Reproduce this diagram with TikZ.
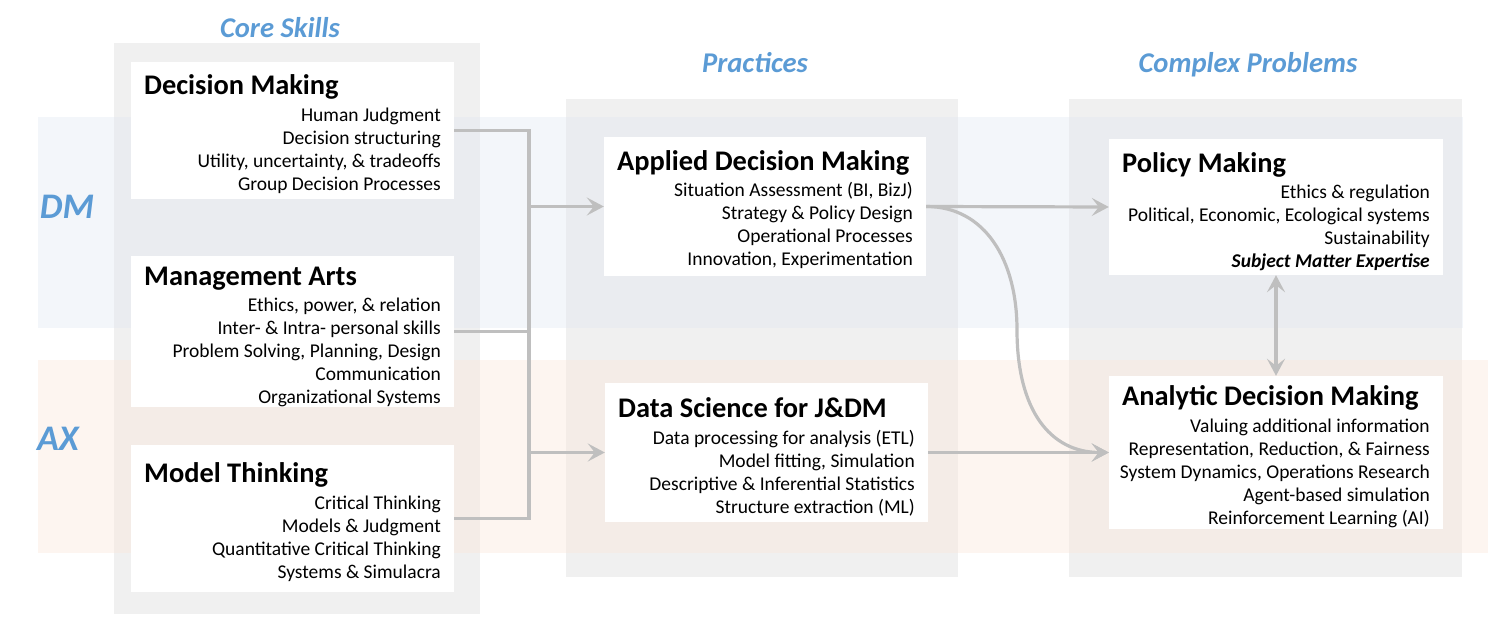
\documentclass[tikz,border=0pt]{standalone}
\usepackage{fontspec}
\setmainfont{Carlito}
\usepackage{xcolor}
\usepackage{tikz}
\usetikzlibrary{arrows.meta, positioning}
\definecolor{hdblue}{HTML}{5B9BD5}
\definecolor{colgray}{HTML}{F0F0F0}
\definecolor{dmtint}{RGB}{225,232,242}
\definecolor{axtint}{RGB}{250,230,218}
\definecolor{lnkgray}{HTML}{BFBFBF}

\begin{document}
\begin{tikzpicture}[x=1pt, y=-1pt,
            colbg/.style={fill=colgray},
            band/.style={fill opacity=0.4},
            card/.style={fill=white, inner sep=0pt, minimum width=323pt},
            ttl/.style={font=\fontsize{28.4}{32}\selectfont\bfseries, inner sep=0pt, anchor=base west},
            items/.style={font=\fontsize{19.5}{23}\selectfont, align=right, inner sep=0pt, anchor=base east},
            colhead/.style={font=\fontsize{28.6}{32}\selectfont\bfseries\itshape, text=hdblue, inner sep=0pt, anchor=base},
            rowhead/.style={font=\fontsize{36}{40}\selectfont\bfseries\itshape, text=hdblue, inner sep=0pt, anchor=base},
            conn/.style={draw=lnkgray, line width=3.2pt},
            arr/.style={conn, -{Stealth[length=17pt, width=18pt, inset=7pt]}}]
            \useasboundingbox (0,0) rectangle (1502,628);

            % 列背景
            \fill[colbg] (114,43) rectangle (480,614);
            \fill[colbg] (566,99) rectangle (958,577);
            \fill[colbg] (1069,99) rectangle (1462,577);

            % 行背景
            \fill[dmtint, band] (38,117) rectangle (1463,328);
            \fill[axtint, band] (38,360) rectangle (1488,553);

            % 标题
            \node[colhead] (hcore) at (280,38) {Core Skills};
            \node[colhead] (hprac) at (755,73) {Practices};
            \node[colhead] (hcplx) at (1248,73) {Complex Problems};
            \node[rowhead] (hdm) at (67,219) {DM};
            \node[rowhead] (hax) at (58,450) {AX};

            % Core Skills
            \node[card, minimum height=137pt] (dm) at (292.5,130.5) {};
            \node[ttl] (dmT) at (144,95) {Decision Making};
            \node[items] (dmI) at (441,191) {Human Judgment\\Decision structuring\\Utility, uncertainty, \& tradeoffs\\Group Decision Processes};

            \node[card, minimum height=151pt] (ma) at (292.5,331.5) {};
            \node[ttl] (maT) at (144,286) {Management Arts};
            \node[items] (maI) at (441,403) {Ethics, power, \& relation\\Inter- \& Intra- personal skills\\Problem Solving, Planning, Design\\Communication\\Organizational Systems};

            \node[card, minimum height=147pt] (mt) at (292.5,518.5) {};
            \node[ttl] (mtT) at (144,482) {Model Thinking};
            \node[items] (mtI) at (441,578) {Critical Thinking\\Models \& Judgment\\Quantitative Critical Thinking\\Systems \& Simulacra};

            % Practices
            \node[card, minimum width=322pt, minimum height=139pt] (ad) at (765,206.5) {};
            \node[ttl] (adT) at (617,171) {Applied Decision Making};
            \node[items] (adI) at (913,266) {Situation Assessment (BI, BizJ)\\Strategy \& Policy Design\\Operational Processes\\Innovation, Experimentation};

            \node[card, minimum height=139pt] (ds) at (766.5,452.5) {};
            \node[ttl] (dsT) at (618,417) {Data Science for J\&DM};
            \node[items] (dsI) at (915,513) {Data processing for analysis (ETL)\\Model fitting, Simulation\\Descriptive \& Inferential Statistics\\Structure extraction (ML)};

            % Complex Problems
            \node[card, minimum width=334pt, minimum height=136pt] (pm) at (1276,207) {};
            \node[ttl] (pmT) at (1122,173) {Policy Making};
            \node[items] (pmI) at (1430,268) {Ethics \& regulation\\Political, Economic, Ecological systems\\Sustainability\\\textbf{\textit{Subject Matter Expertise}}};

            \node[card, minimum width=334pt, minimum height=153pt] (adm) at (1276,452.5) {};
            \node[ttl] (admT) at (1122,405) {Analytic Decision Making};
            \node[items] (admI) at (1430,524) {Valuing additional information\\Representation, Reduction, \& Fairness\\System Dynamics, Operations Research\\Agent-based simulation\\Reinforcement Learning (AI)};

            % 连接线
            \coordinate (jx) at (529,0);
            \draw[conn] (dm.east) -- (dm.east -| jx) -- (mt.east -| jx) -- (mt.east);
            \draw[conn] (ma.east) -- (ma.east -| jx);
            \draw[arr] (ad.west -| jx) -- (ad.west);
            \draw[arr] (ds.west -| jx) -- (ds.west);
            \draw[arr] (ad.east) -- (pm.west);
            \draw[arr] (ad.east) .. controls (985,206.5) and (1017,260) .. (1017,330)
                .. controls (1017,410) and (1050,452.5) .. (adm.west);
            \draw[arr] (ds.east) -- (adm.west);
            \draw[conn, {Stealth[length=17pt, width=18pt, inset=7pt]}-{Stealth[length=17pt, width=18pt, inset=7pt]}] (pm.south) -- (adm.north);
        \end{tikzpicture}
\end{document}
